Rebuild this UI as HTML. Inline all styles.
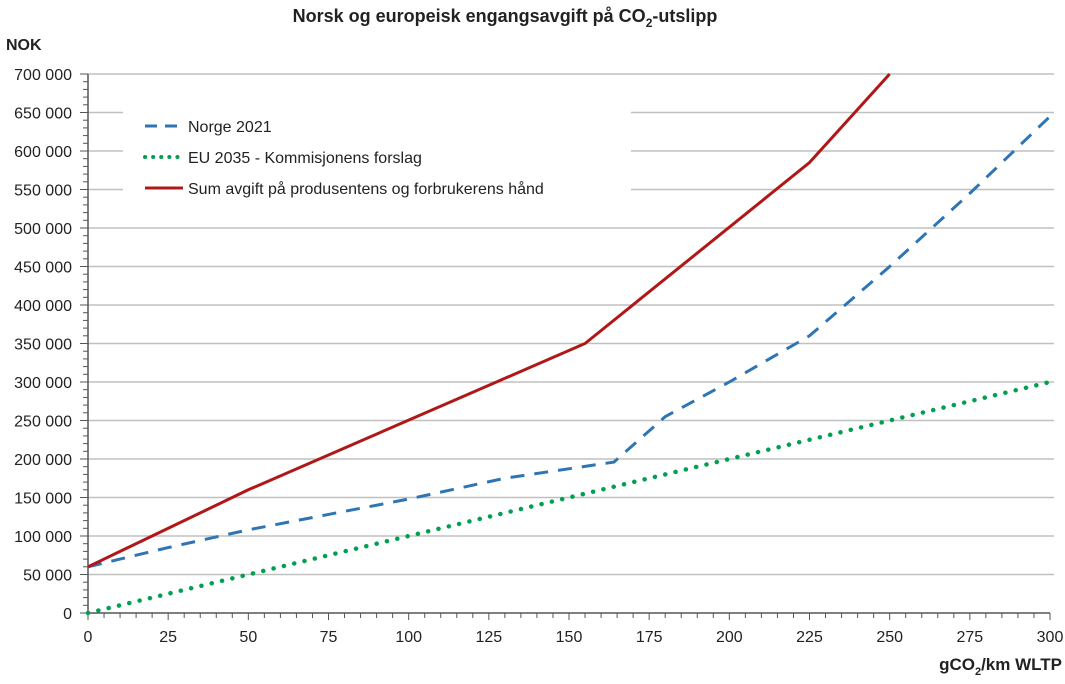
<!DOCTYPE html>
<html><head><meta charset="utf-8"><style>
body{margin:0;background:#fff;}
svg{display:block;font-family:"Liberation Sans",sans-serif;}
</style></head><body>
<svg id="chart" width="1065" height="684">
<text x="505" y="22" text-anchor="middle" font-size="18" font-weight="bold" fill="#222">Norsk og europeisk engangsavgift på CO<tspan font-size="12" dy="5">2</tspan><tspan dy="-5">-utslipp</tspan></text>
<text x="6" y="50" font-size="16" font-weight="bold" fill="#222">NOK</text>
<text x="1062" y="670" text-anchor="end" font-size="17" font-weight="bold" fill="#222">gCO<tspan font-size="11" dy="5">2</tspan><tspan dy="-5">/km WLTP</tspan></text>
<g id="grid"></g><g id="axes"></g><g id="series"></g>
<g>
<rect x="123" y="95" width="508" height="112" fill="#fff"/>
<line x1="145" y1="126" x2="183" y2="126" stroke="#2e75b6" stroke-width="3" stroke-dasharray="12,8"/>
<text x="188" y="132" font-size="16" fill="#222">Norge 2021</text>
<line x1="145" y1="157" x2="183" y2="157" stroke="#00a050" stroke-width="4" stroke-dasharray="0.1,8" stroke-linecap="round"/>
<text x="188" y="163" font-size="16" fill="#222">EU 2035 - Kommisjonens forslag</text>
<line x1="145" y1="188" x2="183" y2="188" stroke="#b01818" stroke-width="3"/>
<text x="188" y="194" font-size="16" fill="#222">Sum avgift på produsentens og forbrukerens hånd</text>
</g>
</svg>
<script>
const xTicks=[0,25,50,75,100,125,150,175,200,225,250,275,300];
const yTicks=[0,50000,100000,150000,200000,250000,300000,350000,400000,450000,500000,550000,600000,650000,700000];
const norgeX=[0,10,25,50,75,100,130,164,180,200,225,250,275,300];
const norgeY=[60000,70000,85000,108000,128000,148000,175000,196000,255000,300000,360000,450000,545000,645000];
const euX=[0,300];
const euY=[0,300000];
const sumX=[0,50,155,225,250];
const sumY=[60000,160000,350000,585000,700000];
const X0=88,X1=1050,Y0=613,Y1=74;
const sx=v=>X0+(v/300)*(X1-X0);
const sy=v=>Y0-(v/700000)*(Y0-Y1);
const NS="http://www.w3.org/2000/svg";
function mk(t,a,p){const e=document.createElementNS(NS,t);for(const k in a)e.setAttribute(k,a[k]);p.appendChild(e);return e;}
const grid=document.getElementById('grid'),axes=document.getElementById('axes'),ser=document.getElementById('series');
const fmt=v=>v===0?"0":(Math.floor(v/1000))+" 000";
yTicks.forEach(v=>{
 if(v>0){const g=mk('line',{x1:X0,x2:1054,y1:sy(v),y2:sy(v),stroke:'#c0c0c0','stroke-width':1.5},grid);
 
 }
 const t=mk('text',{x:72,y:sy(v)+6,'text-anchor':'end','font-size':16,fill:'#222'},axes);t.textContent=fmt(v);
 
 
});
for(let v=0;v<=700000;v+=10000){mk('line',{x1:X0-(v%50000===0?8:5),x2:X0,y1:sy(v),y2:sy(v),stroke:'#555'},axes);}
for(let v=0;v<=300;v+=5){mk('line',{x1:sx(v),x2:sx(v),y1:Y0,y2:Y0+(v%25===0?7:5),stroke:'#555'},axes);}
xTicks.forEach(v=>{const t=mk('text',{x:sx(v),y:642,'text-anchor':'middle','font-size':16,fill:'#222'},axes);t.textContent=v;
 
 });
const ax=mk('path',{d:`M${X0},${Y1}V${Y0}H${X1}`,stroke:'#555',fill:'none','stroke-width':1.5},axes);


function line(xs,ys,attrs,name){const d=xs.map((x,i)=>(i?'L':'M')+sx(x)+','+sy(ys[i])).join('');
 const p=mk('path',Object.assign({d:d,fill:'none'},attrs),ser);
 
 }
line(euX,euY,{stroke:'#00a050','stroke-width':4.5,'stroke-dasharray':'0.1,10.5','stroke-linecap':'round'},'eu-2035-line');
line(norgeX,norgeY,{stroke:'#2e75b6','stroke-width':3,'stroke-dasharray':'14,10'},'norge-2021-line');
line(sumX,sumY,{stroke:'#b01818','stroke-width':3},'sum-avgift-line');
</script>
</body></html>
